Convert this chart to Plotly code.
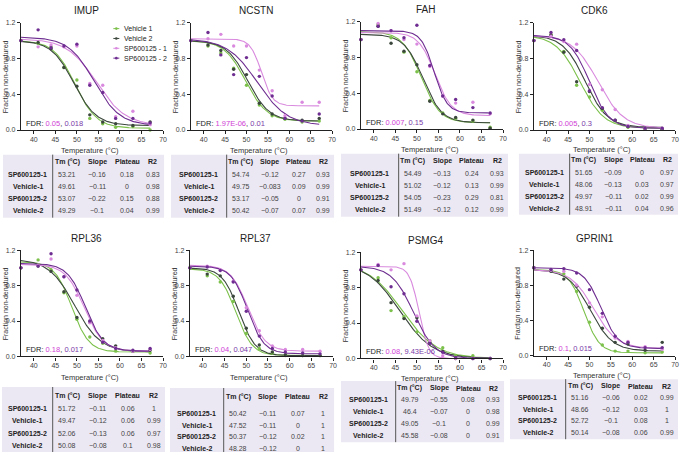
import numpy as np
import plotly.graph_objects as go

W, H = 687, 455

# ---------------- data ----------------
temps = [37, 41, 44, 47, 50, 53, 56, 59, 63, 67]
genes = ["IMUP", "NCSTN", "FAH", "CDK6", "RPL36", "RPL37", "PSMG4", "GPRIN1"]
series_names = ["Vehicle 1", "Vehicle 2", "SP600125 - 1", "SP600125 - 2"]
series_colors = ["#7cc14b", "#3b473c", "#d98ade", "#6e2d90"]

# measured fractions per gene, order: Vehicle 1, Vehicle 2, SP600125-1, SP600125-2
imup_pts = [[1.0, 0.97, 0.93, 0.70, 0.56, 0.13, 0.07, 0.03, 0.04, 0.00],
            [1.0, 0.98, 0.91, 0.70, 0.49, 0.17, 0.09, 0.07, 0.05, 0.09],
            [1.0, 0.93, 0.95, 0.93, 0.94, 0.52, 0.50, 0.15, 0.21, 0.06],
            [1.0, 1.12, 0.92, 0.94, 0.96, 0.50, 0.42, 0.13, 0.13, 0.08]]
ncstn_pts = [[1.0, 0.94, 0.86, 0.69, 0.50, 0.28, 0.16, 0.12, 0.09, 0.10],
             [1.0, 0.95, 0.89, 0.68, 0.62, 0.30, 0.18, 0.13, 0.11, 0.13],
             [1.0, 1.02, 1.07, 0.94, 0.94, 0.67, 0.44, 0.16, 0.31, 0.31],
             [1.0, 1.09, 0.84, 0.62, 0.81, 0.60, 0.38, 0.13, 0.10, 0.18]]
fah_pts = [[1.0, 1.17, 1.02, 0.86, 0.64, 0.32, 0.18, 0.12, 0.09, 0.02],
           [1.0, 1.15, 0.96, 0.87, 0.72, 0.31, 0.17, 0.13, 0.10, 0.01],
           [1.0, 1.18, 1.10, 1.00, 0.95, 0.70, 0.37, 0.29, 0.30, 0.17],
           [1.0, 1.15, 1.10, 1.02, 1.16, 0.71, 0.37, 0.33, 0.24, 0.18]]
cdk6_pts = [[1.0, 1.07, 0.88, 0.50, 0.37, 0.22, 0.10, 0.03, 0.01, 0.01],
            [1.0, 1.06, 0.87, 0.54, 0.43, 0.24, 0.11, 0.04, 0.02, 0.01],
            [1.0, 1.05, 0.99, 0.96, 0.51, 0.45, 0.23, 0.05, 0.02, 0.02],
            [1.0, 1.09, 1.01, 0.89, 0.44, 0.25, 0.11, 0.04, 0.02, 0.02]]
rpl36_pts = [[1.0, 1.09, 0.98, 0.72, 0.42, 0.22, 0.15, 0.06, 0.06, 0.04],
             [1.0, 1.02, 0.96, 0.73, 0.44, 0.39, 0.20, 0.12, 0.06, 0.07],
             [1.0, 1.03, 1.10, 0.90, 0.69, 0.38, 0.18, 0.10, 0.06, 0.08],
             [1.0, 1.02, 1.16, 0.90, 0.75, 0.40, 0.16, 0.09, 0.07, 0.09]]
rpl37_pts = [[1.0, 0.91, 0.84, 0.62, 0.26, 0.09, 0.04, 0.01, 0.01, 0.01],
             [1.0, 0.93, 0.91, 0.68, 0.32, 0.13, 0.05, 0.02, 0.01, 0.01],
             [1.0, 1.02, 0.98, 0.85, 0.55, 0.29, 0.12, 0.08, 0.08, 0.06],
             [1.0, 1.01, 0.97, 0.84, 0.51, 0.23, 0.09, 0.05, 0.04, 0.03]]
psmg4_pts = [[1.0, 0.91, 0.54, 0.47, 0.30, 0.20, 0.12, 0.03, 0.03, 0.00],
             [1.0, 0.88, 0.63, 0.45, 0.46, 0.18, 0.08, 0.00, 0.00, 0.00],
             [1.0, 1.06, 1.00, 1.07, 0.48, 0.20, 0.03, 0.00, 0.00, 0.00],
             [1.0, 1.05, 0.81, 0.73, 0.42, 0.17, 0.07, 0.01, 0.00, 0.00]]
gprin1_pts = [[1.0, 0.97, 0.93, 0.73, 0.38, 0.12, 0.05, 0.05, 0.03, 0.04],
              [1.0, 0.96, 0.87, 0.79, 0.55, 0.31, 0.15, 0.13, 0.06, 0.15],
              [1.0, 0.97, 0.96, 0.80, 0.60, 0.44, 0.20, 0.16, 0.10, 0.07],
              [1.0, 0.98, 0.99, 0.94, 0.75, 0.48, 0.22, 0.15, 0.09, 0.09]]
points = [imup_pts, ncstn_pts, fah_pts, cdk6_pts, rpl36_pts, rpl37_pts, psmg4_pts, gprin1_pts]

# fitted melting-curve parameters: (top, bottom, midpoint, width)
imup_fit = [(1.00, 0.02, 49.6, 2.5), (1.00, 0.05, 49.3, 2.6), (1.02, 0.05, 54.5, 3.4), (1.04, 0.05, 54.0, 3.0)]
ncstn_fit = [(1.00, 0.10, 49.8, 2.5), (1.00, 0.10, 50.3, 2.5), (1.02, 0.27, 53.5, 1.3), (1.02, 0.05, 52.5, 3.5)]
fah_fit = [(1.09, 0.07, 51.0, 2.2), (1.06, 0.07, 51.4, 2.2), (1.08, 0.15, 54.2, 1.9), (1.10, 0.18, 54.0, 1.5)]
cdk6_fit = [(1.06, 0.02, 47.8, 2.8), (1.06, 0.03, 49.0, 2.6), (1.06, 0.02, 52.0, 3.0), (1.06, 0.02, 50.0, 2.3)]
rpl36_fit = [(1.07, 0.05, 48.8, 2.0), (1.10, 0.05, 49.5, 3.0), (1.04, 0.06, 51.7, 2.2), (1.05, 0.06, 52.0, 2.1)]
rpl37_fit = [(0.99, 0.01, 47.6, 1.9), (1.00, 0.01, 48.3, 1.9), (1.03, 0.06, 50.4, 2.0), (1.02, 0.03, 50.3, 1.9)]
psmg4_fit = [(1.08, 0.00, 46.6, 4.0), (1.08, 0.00, 46.0, 3.8), (1.04, 0.00, 50.5, 1.1), (1.04, 0.00, 49.2, 2.5)]
gprin1_fit = [(0.98, 0.03, 48.7, 1.8), (0.98, 0.05, 50.2, 2.6), (0.98, 0.08, 51.0, 2.7), (1.00, 0.08, 52.7, 2.0)]
fits = [imup_fit, ncstn_fit, fah_fit, cdk6_fit, rpl36_fit, rpl37_fit, psmg4_fit, gprin1_fit]

fdr_first = ["0.05", "1.97E-06", "0.007", "0.005", "0.18", "0.04", "0.08", "0.1"]
fdr_second = ["0.018", "0.01", "0.15", "0.3", "0.017", "0.047", "9.43E-06", "0.015"]

table_rows = ["SP600125-1", "Vehicle-1", "SP600125-2", "Vehicle-2"]
table_cols = ["Tm (°C)", "Slope", "Plateau", "R2"]
imup_tab = [["53.21", "−0.16", "0.18", "0.83"], ["49.61", "−0.11", "0", "0.98"],
            ["53.07", "−0.22", "0.15", "0.88"], ["49.29", "−0.1", "0.04", "0.99"]]
ncstn_tab = [["54.74", "−0.12", "0.27", "0.93"], ["49.75", "−0.083", "0.09", "0.99"],
             ["53.17", "−0.05", "0", "0.91"], ["50.42", "−0.07", "0.07", "0.99"]]
fah_tab = [["54.49", "−0.13", "0.24", "0.93"], ["51.02", "−0.12", "0.13", "0.99"],
           ["54.05", "−0.23", "0.29", "0.81"], ["51.49", "−0.12", "0.12", "0.99"]]
cdk6_tab = [["51.65", "−0.09", "0", "0.97"], ["48.06", "−0.13", "0.03", "0.97"],
            ["49.97", "−0.11", "0.02", "0.99"], ["48.91", "−0.11", "0.04", "0.96"]]
rpl36_tab = [["51.72", "−0.11", "0.06", "1"], ["49.47", "−0.12", "0.06", "0.99"],
             ["52.06", "−0.13", "0.06", "0.97"], ["50.08", "−0.08", "0.1", "0.98"]]
rpl37_tab = [["50.42", "−0.11", "0.07", "1"], ["47.52", "−0.11", "0", "1"],
             ["50.37", "−0.12", "0.02", "1"], ["48.28", "−0.12", "0", "1"]]
psmg4_tab = [["49.79", "−0.55", "0.08", "0.93"], ["46.4", "−0.07", "0", "0.98"],
             ["49.05", "−0.1", "0", "0.99"], ["45.58", "−0.08", "0", "0.91"]]
gprin1_tab = [["51.16", "−0.06", "0.02", "0.99"], ["48.66", "−0.12", "0.03", "1"],
              ["52.72", "−0.1", "0.08", "1"], ["50.14", "−0.08", "0.06", "0.99"]]
tables = [imup_tab, ncstn_tab, fah_tab, cdk6_tab, rpl36_tab, rpl37_tab, psmg4_tab, gprin1_tab]

x_ticks = [40, 45, 50, 55, 60, 65, 70]
y_ticks = [0.0, 0.4, 0.8, 1.2]

# ---------------- layout geometry (pixels) ----------------
# plot boxes: (left, right, top(1.2), bottom(0.0))
plot_boxes = [(21, 164, 19, 128), (192, 334, 19, 128), (363, 506, 18, 127), (537, 679, 19, 128),
              (21, 164, 250, 358), (191, 335, 250, 358), (363, 506, 252, 360), (537, 679, 250, 357)]
title_x = [87, 257, 428, 598, 87, 257, 428, 598]
xtitle_gap = [21, 21, 21, 20, 21, 21, 20, 20]
# tables: (x0, x1, y0, y1, divider, header_y, first_row_y, row_step)
table_boxes = [(3, 165, 153, 217, 53, 160, 173, 12.4),
               (172, 336, 153, 217, 228, 160, 173, 12.3),
               (343, 511, 152, 216, 401, 159, 172, 12.3),
               (522, 682, 152, 214, 573, 158, 171, 12.1),
               (2, 166, 389, 455, 53, 398, 411, 12.4),
               (171, 336, 390, 455, 225, 399, 416, 11.8),
               (343, 507, 383, 445, 398, 390, 402, 12.0),
               (513, 682, 381, 442, 569, 388, 400, 11.7)]
col_frac = [0.13, 0.40, 0.67, 0.90]

FONT = "Liberation Sans, Arial, sans-serif"

def px(x):
    return x / W

def py(y):
    return 1 - y / H

fig = go.Figure()
annotations = []
shapes = []
layout_axes = {}
curve_T = np.linspace(37, 67, 151)

for g, gene in enumerate(genes):
    idx = "" if g == 0 else str(g + 1)
    xa, ya = "x" + idx, "y" + idx
    l, r, t, b = plot_boxes[g]
    layout_axes["xaxis" + idx] = dict(
        domain=[px(l), px(r)], anchor=ya, range=[37, 70], tickvals=x_ticks,
        showline=True, linecolor="#222", linewidth=1.2, ticks="outside", ticklen=3,
        tickwidth=1, tickcolor="#222", tickfont=dict(size=7, color="#444", family=FONT),
        ticklabelstandoff=-1,
        showgrid=False, zeroline=False, fixedrange=True)
    layout_axes["yaxis" + idx] = dict(
        domain=[py(b), py(t)], anchor=xa, range=[0, 1.2], tickvals=y_ticks,
        ticktext=["%.1f" % v for v in y_ticks],
        showline=True, linecolor="#222", linewidth=1.2, ticks="outside", ticklen=3,
        tickwidth=1, tickcolor="#222", tickfont=dict(size=7, color="#444", family=FONT),
        showgrid=False, zeroline=False, fixedrange=True)
    for s in range(4):
        top, bot, mid, wid = fits[g][s]
        yc = bot + (top - bot) / (1 + np.exp((curve_T - mid) / wid))
        fig.add_trace(go.Scatter(x=curve_T, y=yc, mode="lines", xaxis=xa, yaxis=ya,
                                 line=dict(color=series_colors[s], width=1.1),
                                 showlegend=False, hoverinfo="skip"))
    for s in range(4):
        fig.add_trace(go.Scatter(x=temps, y=points[g][s], mode="markers", xaxis=xa, yaxis=ya,
                                 marker=dict(color=series_colors[s], size=3.4),
                                 cliponaxis=False, showlegend=False, name=series_names[s]))
    # title
    annotations.append(dict(x=px(title_x[g]), y=py(t - 12), xref="paper", yref="paper",
                            text=gene, showarrow=False, xanchor="center", yanchor="middle",
                            font=dict(size=10, color="#222", family=FONT)))
    # axis titles
    annotations.append(dict(x=px((l + r) / 2 - 2), y=py(b + xtitle_gap[g]), xref="paper", yref="paper",
                            text="Temperature (°C)", showarrow=False, xanchor="center",
                            yanchor="middle", font=dict(size=7.5, color="#333", family=FONT)))
    annotations.append(dict(x=px(l - 16), y=py((t + b) / 2), xref="paper", yref="paper",
                            text="Fraction non-denatured", showarrow=False, textangle=-90,
                            xanchor="center", yanchor="middle",
                            font=dict(size=7, color="#333", family=FONT)))
    # FDR text
    annotations.append(dict(x=px(l + 3), y=py(b - 7), xref="paper", yref="paper",
                            text=("FDR: <span style='color:#d03ed6'>%s</span>, "
                                  "<span style='color:#7a3aa8'>%s</span>") % (fdr_first[g], fdr_second[g]),
                            showarrow=False, xanchor="left", yanchor="middle",
                            font=dict(size=7.5, color="#222", family=FONT)))
    # table
    x0, x1, y0, y1, dv, hy, ry, step = table_boxes[g]
    shapes.append(dict(type="rect", xref="paper", yref="paper", x0=px(x0), x1=px(x1),
                       y0=py(y1), y1=py(y0), fillcolor="#ece8f3", line=dict(width=0), layer="below"))
    shapes.append(dict(type="line", xref="paper", yref="paper", x0=px(dv), x1=px(dv),
                       y0=py(y1), y1=py(y0), line=dict(color="#555", width=1)))
    cw = x1 - dv
    for c, col in enumerate(table_cols):
        annotations.append(dict(x=px(dv + col_frac[c] * cw), y=py(hy), xref="paper", yref="paper",
                                text="<b>%s</b>" % col, showarrow=False, xanchor="center",
                                yanchor="middle", font=dict(size=7, color="#222", family=FONT)))
    for rI, rn in enumerate(table_rows):
        yy = ry + rI * step
        annotations.append(dict(x=px((x0 + dv) / 2), y=py(yy), xref="paper", yref="paper",
                                text="<b>%s</b>" % rn, showarrow=False, xanchor="center",
                                yanchor="middle", font=dict(size=7, color="#222", family=FONT)))
        for c in range(4):
            annotations.append(dict(x=px(dv + col_frac[c] * cw), y=py(yy), xref="paper", yref="paper",
                                    text=tables[g][rI][c], showarrow=False, xanchor="center",
                                    yanchor="middle", font=dict(size=7, color="#444", family=FONT)))

# legend (first panel)
leg_x, leg_y0, leg_dy = 117, 25, 10
for s in range(4):
    yy = leg_y0 + s * leg_dy
    shapes.append(dict(type="line", xref="paper", yref="paper", x0=px(leg_x - 3), x1=px(leg_x + 3),
                       y0=py(yy), y1=py(yy), line=dict(color=series_colors[s], width=1)))
    shapes.append(dict(type="circle", xref="paper", yref="paper", x0=px(leg_x - 1.3), x1=px(leg_x + 1.3),
                       y0=py(yy + 1.3), y1=py(yy - 1.3), fillcolor=series_colors[s],
                       line=dict(width=0)))
    annotations.append(dict(x=px(leg_x + 6), y=py(yy), xref="paper", yref="paper",
                            text=series_names[s], showarrow=False, xanchor="left", yanchor="middle",
                            font=dict(size=7, color="#222", family=FONT)))

fig.update_layout(width=W, height=H, autosize=False, margin=dict(l=0, r=0, t=0, b=0),
                  paper_bgcolor="white", plot_bgcolor="white", showlegend=False,
                  annotations=annotations, shapes=shapes, **layout_axes)
fig.write_html("out.html", config={"displayModeBar": False},
               post_script="document.body.style.margin='0';document.body.style.padding='0';")
